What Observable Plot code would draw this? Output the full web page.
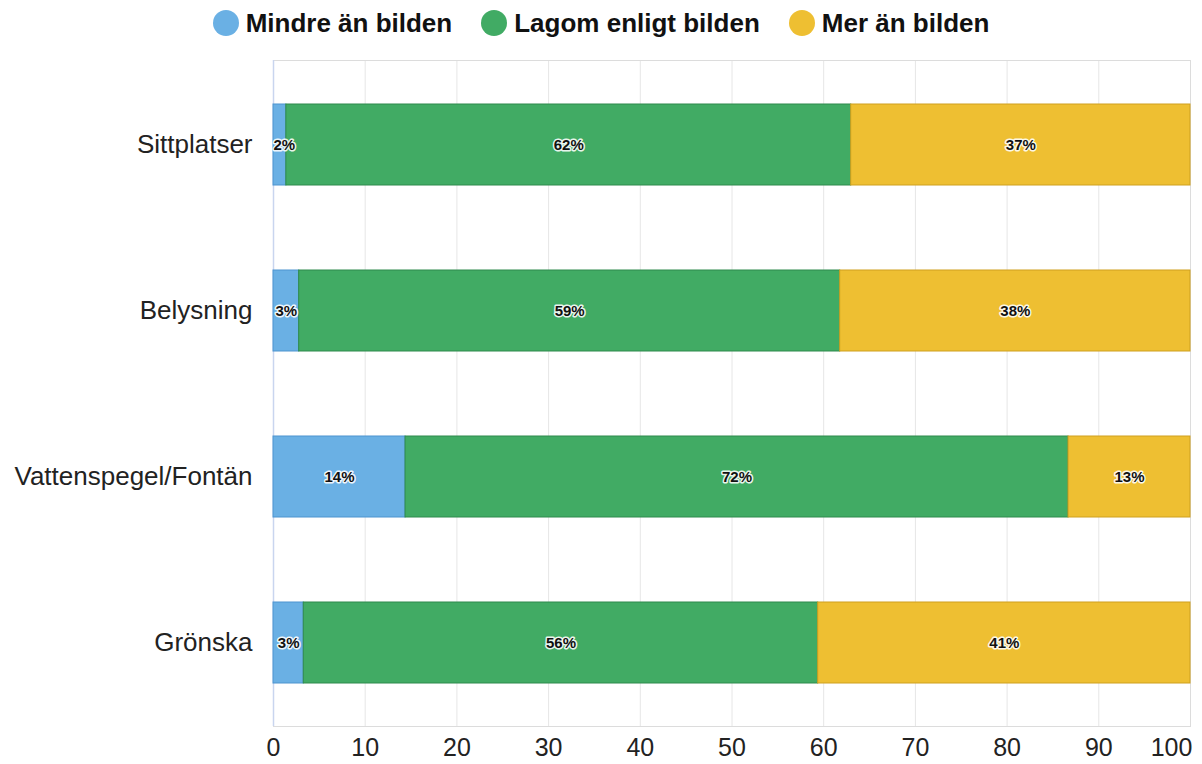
<!DOCTYPE html>
<html>
<head>
<meta charset="utf-8">
<script src="https://cdn.jsdelivr.net/npm/d3@7"></script>
<script src="https://cdn.jsdelivr.net/npm/@observablehq/plot@0.6"></script>
<style>
  html, body { margin: 0; padding: 0; background: #fff; }
  body { width: 1202px; height: 764px; overflow: hidden; font-family: "Liberation Sans", Arial, sans-serif; }
  #legend { height: 46px; display: flex; align-items: center; justify-content: center; gap: 29px; padding-left: 0px; box-sizing: border-box; }
  .item { display: flex; align-items: center; gap: 7px; font-weight: bold; font-size: 26px; color: #111; }
  .dot { width: 26px; height: 26px; border-radius: 50%; display: inline-block; }
</style>
</head>
<body>
<div id="legend"></div>
<div id="chart"></div>
<script>
const categories = ["Sittplatser", "Belysning", "Vattenspegel/Fontän", "Grönska"];
const seriesNames = ["Mindre än bilden", "Lagom enligt bilden", "Mer än bilden"];
const mindre = [1.4, 2.8, 14.4, 3.3];
const lagom = [61.6, 59.0, 72.3, 56.1];
const mer = [37.0, 38.2, 13.3, 40.6];
const mindreLabels = ["2%", "3%", "14%", "3%"];
const lagomLabels = ["62%", "59%", "72%", "56%"];
const merLabels = ["37%", "38%", "13%", "41%"];
const xTicks = [0, 10, 20, 30, 40, 50, 60, 70, 80, 90];
const xTickLast = [100];

const colors = ["#6ab0e4", "#41ab64", "#eebf32"];
const strokes = ["#4c94cf", "#2f8a4c", "#cfa01e"];

const seriesValues = [mindre, lagom, mer];
const seriesLabels = [mindreLabels, lagomLabels, merLabels];
const data = [];
seriesNames.forEach((s, si) => {
  categories.forEach((c, ci) => {
    data.push({category: c, series: s, value: seriesValues[si][ci], label: seriesLabels[si][ci]});
  });
});

// legend
const legend = document.getElementById("legend");
seriesNames.forEach((s, i) => {
  const it = document.createElement("div");
  it.className = "item";
  it.innerHTML = `<span class="dot" style="background:${colors[i]}"></span><span>${s}</span>`;
  legend.appendChild(it);
});

const labelStyle = {fontSize: 15, fontWeight: "bold", fill: "#111", stroke: "white", strokeWidth: 3, strokeOpacity: 0.9};
const narrow = d => d.value < 2;

const chart = Plot.plot({
  width: 1202,
  height: 718,
  marginLeft: 273,
  marginRight: 12,
  marginTop: 14,
  marginBottom: 38,
  style: {fontFamily: "'Liberation Sans', Arial, sans-serif", background: "#fff"},
  x: {domain: [0, 100]},
  y: {domain: categories, paddingInner: 0.514, paddingOuter: 0.253},
  color: {domain: seriesNames, range: colors},
  marks: [
    Plot.gridX([0,10,20,30,40,50,60,70,80,90,100], {stroke: "#e6e6e6", strokeOpacity: 1}),
    Plot.frame({stroke: "#dcdcdc"}),
    Plot.ruleX([0], {stroke: "#c9d5ef", strokeWidth: 1.5}),
    Plot.barX(data, Plot.stackX({
      x: "value", y: "category", fill: "series", z: "series",
      stroke: d => strokes[seriesNames.indexOf(d.series)],
      strokeWidth: 1,
      order: seriesNames
    })),
    Plot.text(data, Plot.stackX({
      x: "value", y: "category", text: d => narrow(d) ? "" : d.label, z: "series",
      order: seriesNames, ...labelStyle
    })),
    Plot.text(data, Plot.stackX1({
      x: "value", y: "category", text: d => narrow(d) ? d.label : "", z: "series",
      order: seriesNames, textAnchor: "start", dx: 0, ...labelStyle
    })),
    Plot.axisY({tickSize: 0, tickPadding: 21, fontSize: 26, fill: "#222", label: null}),
    Plot.axisX(xTicks, {tickSize: 0, tickPadding: 12, fontSize: 25, fill: "#222", label: null}),
    Plot.axisX(xTickLast, {tickSize: 0, tickPadding: 12, fontSize: 25, fill: "#222", label: null, dx: -19})
  ]
});
document.getElementById("chart").appendChild(chart);
</script>
</body>
</html>
